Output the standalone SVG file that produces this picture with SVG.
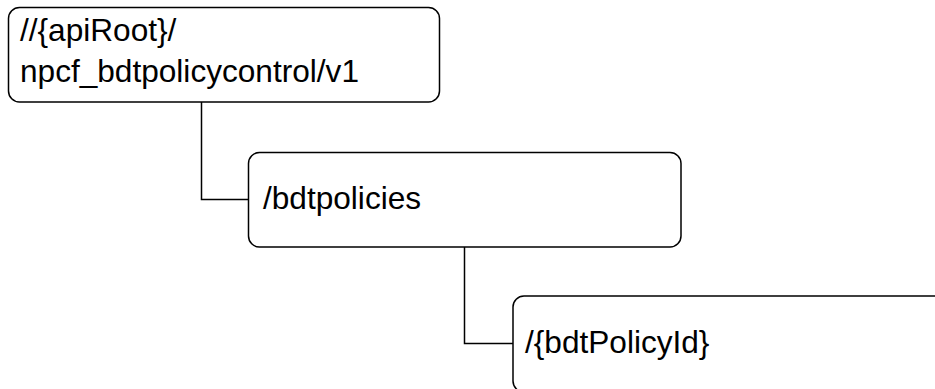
<svg xmlns="http://www.w3.org/2000/svg" width="935" height="389" viewBox="0 0 935 389">
<style>
.box{fill:#fff;stroke:#000;stroke-width:1.5}
.conn{fill:none;stroke:#000;stroke-width:1.5}
.t{font-family:"Liberation Sans",Arial,sans-serif;font-size:31.6px;fill:#000}
</style>
<rect width="935" height="389" fill="#fff"/>
<g id="connectors">
<path class="conn" d="M201.5,102 V199.5 H249"/>
<path class="conn" d="M464.5,247 V343.5 H513"/>
</g>
<g id="node-root">
<rect class="box" x="8.5" y="7.5" width="431" height="94.5" rx="11"/>
<text class="t" x="20" y="41">//{apiRoot}/</text>
<text class="t" x="20" y="82">npcf_bdtpolicycontrol/v1</text>
</g>
<g id="node-bdtpolicies">
<rect class="box" x="248.5" y="152.5" width="432.5" height="94.5" rx="11"/>
<text class="t" x="263" y="209">/bdtpolicies</text>
</g>
<g id="node-bdtPolicyId">
<rect class="box" x="513" y="296" width="460" height="96" rx="11"/>
<text class="t" x="525" y="353">/{bdtPolicyId}</text>
</g>
</svg>
